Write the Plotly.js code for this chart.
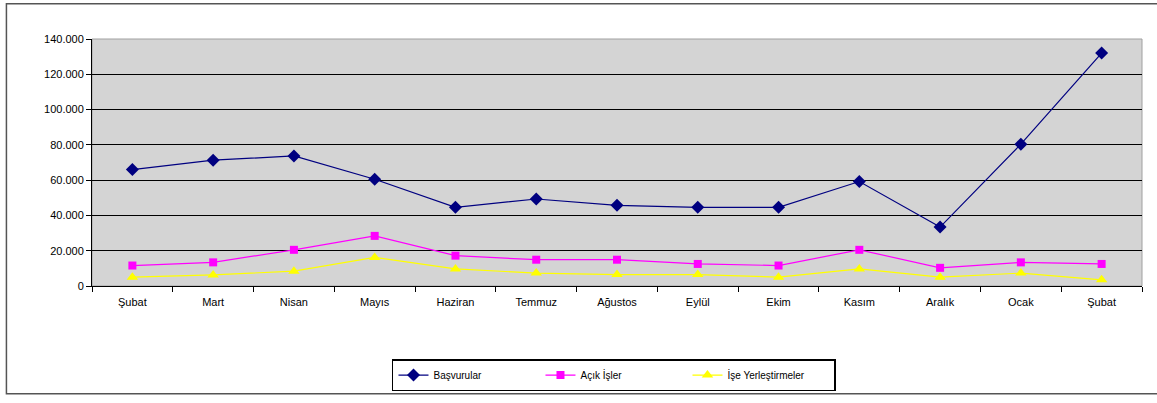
<!DOCTYPE html>
<html>
<head>
<meta charset="utf-8">
<script src="https://cdn.plot.ly/plotly-3.0.1.min.js"></script>
<style>html,body{margin:0;padding:0;background:#fff;overflow:hidden;}#chart{width:1157px;height:403px;}</style>
</head>
<body>
<div id="chart"></div>
<script>
const months = ["Şubat","Mart","Nisan","Mayıs","Haziran","Temmuz","Ağustos","Eylül","Ekim","Kasım","Aralık","Ocak","Şubat"];
const basvurular = [66000,71300,73700,60500,44600,49300,45700,44600,44600,59200,33400,80400,132000];
const acikIsler = [11600,13400,20500,28400,17200,14900,14900,12500,11600,20500,10300,13400,12500];
const iseYerlestirmeler = [5000,6300,8400,16200,9700,7300,6500,6500,5000,9700,5000,7300,3500];
const seriesNames = ["Başvurular","Açık İşler","İşe Yerleştirmeler"];

const xIdx = months.map((_, i) => i);
const font = {family: "Liberation Sans, Arial, sans-serif", size: 11, color: "#000"};

const traces = [
  {x: xIdx, y: basvurular, name: seriesNames[0], type: "scatter", mode: "lines+markers",
   line: {color: "#000080", width: 1.2}, marker: {symbol: "diamond", size: 10, color: "#000080"}},
  {x: xIdx, y: acikIsler, name: seriesNames[1], type: "scatter", mode: "lines+markers",
   line: {color: "#FF00FF", width: 1.2}, marker: {symbol: "square", size: 8, color: "#FF00FF"}},
  {x: xIdx, y: iseYerlestirmeler, name: seriesNames[2], type: "scatter", mode: "lines+markers",
   line: {color: "#FFFF00", width: 1.2}, marker: {symbol: "triangle-up", size: 10, color: "#FFFF00"}}
];

const layout = {
  width: 1157, height: 403,
  margin: {l: 92, r: 15, t: 39, b: 114},
  paper_bgcolor: "#ffffff",
  plot_bgcolor: "#d4d4d4",
  separators: ",.",
  font: font,
  showlegend: true,
  legend: {
    orientation: "h", x: 0.2857, y: -0.296, xanchor: "left", yanchor: "top",
    bordercolor: "#000", borderwidth: 1.5, bgcolor: "#fff",
    font: {family: "Liberation Sans, Arial, sans-serif", size: 10, color: "#000"},
    tracegroupgap: 0, itemwidth: 30, entrywidth: 102, entrywidthmode: "pixels"
  },
  xaxis: {
    range: [-0.5, 12.5], tickvals: xIdx, ticktext: months,
    ticks: "", showgrid: false, zeroline: false,
    showline: true, linecolor: "#000", linewidth: 1,
    ticklabelstandoff: 6,
    minor: {tick0: -0.5, dtick: 1, ticks: "outside", ticklen: 5, tickcolor: "#000", showgrid: false},
    fixedrange: true, tickfont: font
  },
  yaxis: {
    range: [0, 140000], dtick: 20000, tickformat: ",d",
    ticks: "outside", ticklen: 5, tickcolor: "#000",
    showgrid: true, gridcolor: "#000", gridwidth: 1,
    zeroline: false, showline: true, linecolor: "#000", linewidth: 1,
    fixedrange: true, tickfont: font
  },
  shapes: [
    {type: "rect", xref: "paper", yref: "paper", x0: 0, x1: 1, y0: 0, y1: 1,
     line: {color: "#a0a0a0", width: 1}, layer: "below"},
    {type: "rect", xref: "paper", yref: "paper", x0: -0.0815, x1: 1.04, y0: -0.436, y1: 1.143,
     line: {color: "#555", width: 1.5}, fillcolor: "rgba(0,0,0,0)", layer: "below"}
  ]
};

Plotly.newPlot("chart", traces, layout, {displayModeBar: false, staticPlot: true});
</script>
</body>
</html>
